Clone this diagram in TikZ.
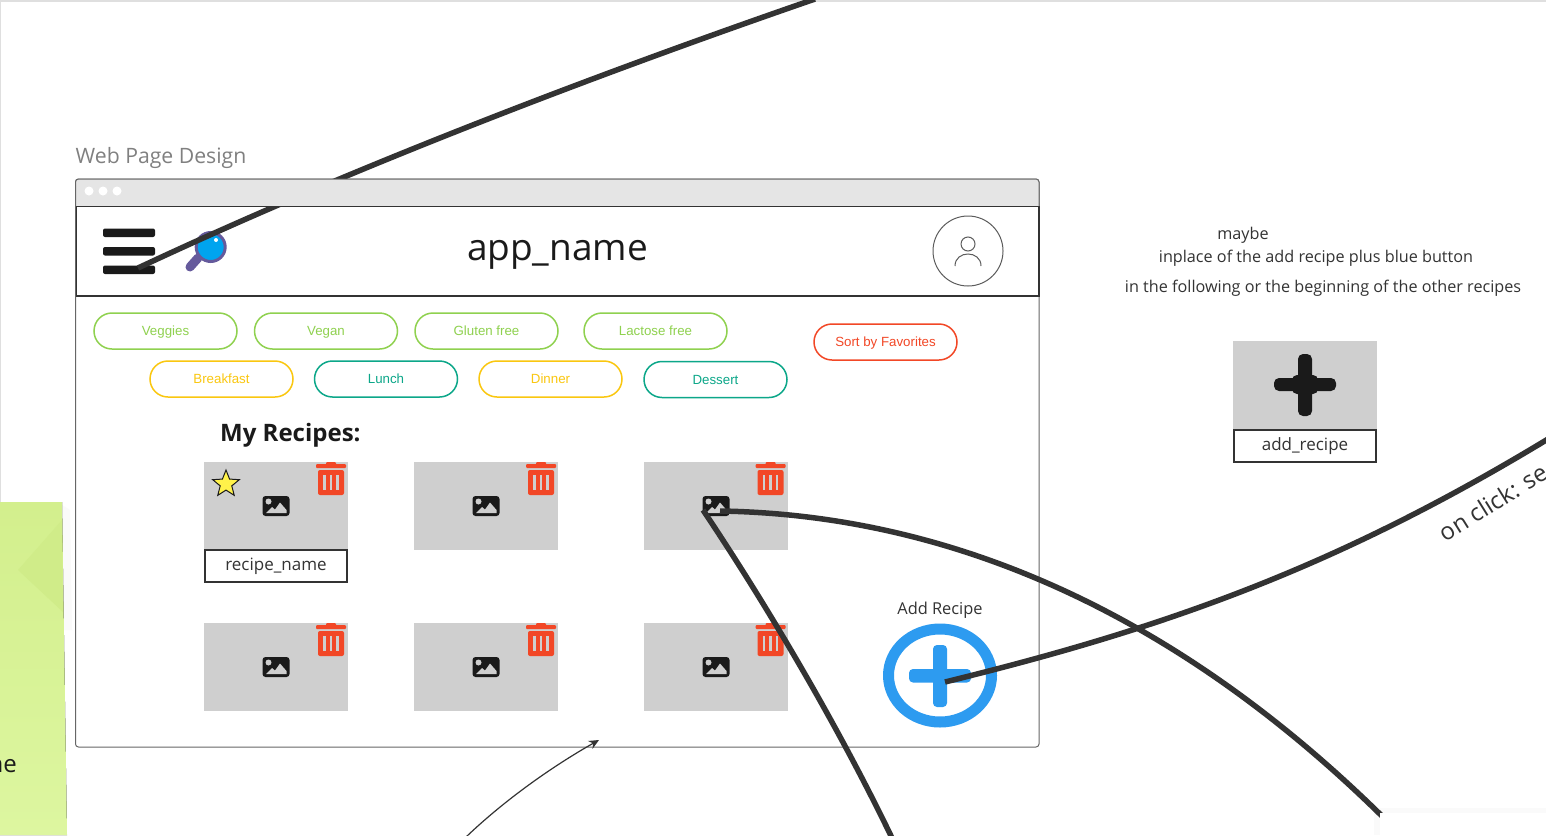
\documentclass[tikz,border=0pt]{standalone}
\usepackage{fontspec}
\setmainfont{Open Sans}
\newfontfamily\pillfont{Liberation Sans}
\usetikzlibrary{shapes.geometric, arrows, arrows.meta}
\definecolor{wirecol}{HTML}{333333}
\definecolor{cardgray}{HTML}{CFCFCF}
\definecolor{inkcol}{HTML}{1A1A1A}
\definecolor{pillgreen}{HTML}{8FD14F}
\definecolor{pillyellow}{HTML}{FAC710}
\definecolor{pillteal}{HTML}{0CA789}
\definecolor{pillred}{HTML}{F24726}
\definecolor{addblue}{HTML}{2D9BF0}
\definecolor{lenscol}{HTML}{00A4EF}
\definecolor{handlecol}{HTML}{655A9C}
\definecolor{barcol}{HTML}{E5E5E5}
\definecolor{stickytop}{HTML}{D3EF8D}
\definecolor{stickybottom}{HTML}{DDF6A0}
\definecolor{stickyfold}{HTML}{D0EC89}
\definecolor{starcol}{HTML}{FFF24A}
\tikzstyle{wire} = [wirecol,line width=5.5pt]
\tikzstyle{arrow} = [-{Stealth[length=10pt,width=9pt]},wirecol,line width=1.2pt]
\tikzstyle{pill} = [draw,line width=1.5pt,rounded corners=18pt,minimum width=143pt,minimum height=36pt,inner sep=0pt,text height=9.5pt,text depth=0pt,font=\pillfont\fontsize{13.3}{16}\selectfont]
\tikzstyle{card} = [fill=cardgray,minimum width=143.5pt,minimum height=88pt,inner sep=0pt]
\tikzstyle{namebox} = [draw=wirecol,fill=white,line width=1.5pt,minimum width=142pt,minimum height=32pt,inner sep=0pt,text=wirecol,font=\fontsize{17}{20}\selectfont]
\tikzstyle{note} = [inner sep=0pt,text=wirecol,font=\fontsize{16.2}{19}\selectfont]
\tikzset{
  trash/.pic={
    \fill[pillred,rounded corners=1pt](-15,-16)rectangle(15,-12);
    \fill[pillred,rounded corners=1pt](-5,-18)rectangle(5,-15);
    \fill[pillred,rounded corners=2pt](-13,-10)rectangle(13,15);
    \draw[cardgray,line width=2.4pt](-6.5,-5)--(-6.5,10)(0,-5)--(0,10)(6.5,-5)--(6.5,10);
  },
  photo/.pic={
    \fill[inkcol,rounded corners=3pt](-13.5,-10)rectangle(13.5,10);
    \fill[cardgray](-7.5,-4.5)circle(3);
    \fill[cardgray](-10,7)--(-4,1)--(-1,3.5)--(4,-3.5)--(10.5,4)--(10.5,7)--cycle;
  }
}
\begin{document}
\begin{tikzpicture}[x=1pt,y=-1pt]
  \useasboundingbox(0,0)rectangle(1546,835);
  \clip(0,0)rectangle(1546,835);
  \fill[white](0,0)rectangle(1546,835);
  \fill[gray!25](0,0)rectangle(1546,2);
  \fill[gray!25](0,0)rectangle(1,835);

  % sticky note at the left edge
  \fill[black!2](62,505)--(70,510)--(72,630)--(64,630)--cycle;
  \fill[top color=stickytop,bottom color=stickybottom](0,502)--(62,502)--(67,835)--(0,835)--cycle;
  \fill[stickyfold](62,520)--(63,612)--(18,570)--cycle;
  \node[anchor=east,inner sep=0pt,text=inkcol,font=\fontsize{24}{28}\selectfont](stickytext) at (17,766){ne};

  % window
  \node[anchor=south west,inner sep=0pt,text=gray,font=\fontsize{21.2}{25}\selectfont](pagetitle) at (75.5,169){Web Page Design};
  \draw[gray!80!black,fill=white,rounded corners=3pt,line width=1pt](75.5,179)rectangle(1039,747);
  \draw[wirecol,fill=white,line width=1.5pt](76.5,206.5)rectangle(1039,296);

  % icons in the header
  \fill[inkcol,rounded corners=2pt](103,228.5)rectangle(155,237);
  \fill[inkcol,rounded corners=2pt](103,247)rectangle(155,255.5);
  \fill[inkcol,rounded corners=2pt](103,265.5)rectangle(155,274);
  \draw[handlecol,line width=9pt,line cap=round](190,267)--(198,258);
  \draw[handlecol,fill=lenscol,line width=3pt](210.7,247)circle(14.5);
  \fill[white](216,240)circle(2);
  \node[inner sep=0pt,text=inkcol,font=\fontsize{37}{42}\selectfont](appname) at (557.5,255){app\_name};
  \draw[wirecol!80!white,line width=1pt](968,251)circle(35);
  \draw[wirecol!80!white,line width=1pt](968,244)circle(7);
  \draw[wirecol!80!white,line width=1pt](955,266)..controls (955,250) and (981,250)..(981,266);

  \node[pill,draw=pillgreen,text=pillgreen](veggies) at (165.5,331){Veggies};
  \node[pill,draw=pillgreen,text=pillgreen](vegan) at (326,331){Vegan};
  \node[pill,draw=pillgreen,text=pillgreen](gluten) at (486.5,331){Gluten free};
  \node[pill,draw=pillgreen,text=pillgreen](lactose) at (655.5,331){Lactose free};
  \node[pill,draw=pillred,text=pillred](favorites) at (885.5,342){Sort by Favorites};
  \node[pill,draw=pillyellow,text=pillyellow](breakfast) at (221.5,379){Breakfast};
  \node[pill,draw=pillteal,text=pillteal](lunch) at (386,379){Lunch};
  \node[pill,draw=pillyellow,text=pillyellow](dinner) at (550.5,379){Dinner};
  \node[pill,draw=pillteal,text=pillteal](dessert) at (715.5,379.5){Dessert};

  \node[anchor=west,inner sep=0pt,text=inkcol,font=\bfseries\fontsize{24}{28}\selectfont](myrecipes) at (220,435){My Recipes:};

  \node[card](cardA) at (276,505.5){};
  \node[card](cardB) at (486,505.5){};
  \node[card](cardC) at (716,505.5){};
  \node[card](cardD) at (276,667){};
  \node[card](cardE) at (486,667){};
  \node[card](cardF) at (716,667){};
  \pic at (276,506){photo};
  \pic at (486,506){photo};
  \pic at (716,506){photo};
  \pic at (276,667){photo};
  \pic at (486,667){photo};
  \pic at (716,667){photo};
  \pic at (331,480){trash};
  \pic at (541,480){trash};
  \pic at (770.5,480){trash};
  \pic at (331,641){trash};
  \pic at (541,641){trash};
  \pic at (770.5,641){trash};
  \node[star,star points=5,star point ratio=2.3,draw=inkcol,fill=starcol,line width=1pt,minimum size=28pt,inner sep=0pt](favstar) at (226,484){};
  \node[namebox](recipename) at (276,566){recipe\_name};

  % add button
  \node[note,font=\fontsize{16.4}{19}\selectfont](addlabel) at (940,610){Add Recipe};
  \node[ellipse,draw=addblue,line width=11pt,minimum width=103pt,minimum height=93pt,inner sep=0pt](addbutton) at (940,675.5){};
  \fill[addblue,rounded corners=4pt](933,645)rectangle(947,707);
  \fill[addblue,rounded corners=4pt](909,669)rectangle(971,682.5);

  % the design on the right
  \node[note](maybe) at (1243,235){maybe};
  \node[note](inplace) at (1316,258){inplace of the add recipe plus blue button};
  \node[note](following) at (1323,288){in the following or the beginning of the other recipes};
  \node[card](addcard) at (1305,385){};
  \fill[inkcol,rounded corners=5pt](1298,354)rectangle(1312,416);
  \fill[inkcol,rounded corners=5pt](1274,378)rectangle(1336,391);
  \fill[inkcol,rounded corners=5pt](1292,375)rectangle(1318,394);
  \node[namebox](addname) at (1305,446){add\_recipe};

  % connectors
  \coordinate (menuend) at (138,268);
  \coordinate (topend) at (815,-1);
  \coordinate (plusend) at (945,682);
  \coordinate (rightend) at (1548,439);
  \coordinate (photoend) at (720,511);
  \coordinate (panelend) at (1388,822);
  \coordinate (photostart) at (703,510);
  \coordinate (bottomend) at (892,838);
  \coordinate (arrowstart) at (466,837);
  \coordinate (arrowend) at (599,740);
  \fill[black!2](1374,808)rectangle(1546,835);
  \draw[wire](menuend)..controls (350,168.5) and (595,75)..(topend);
  \fill[barcol,rounded corners=3pt](75.5,179)rectangle(1039,190);
  \fill[barcol](75.5,185)rectangle(1039,206);
  \draw[gray!80!black,rounded corners=3pt,line width=1pt](75.5,206)--(75.5,179)--(1039,179)--(1039,206);
  \draw[wirecol,line width=1.5pt](76.5,206.5)--(1039,206.5);
  \fill[white](89,191)circle(4.5)(103,191)circle(4.5)(117,191)circle(4.5);

  \draw[wire](plusend)..controls (1165,628) and (1335,568)..(rightend);
  \draw[wire](photoend)..controls (965,515) and (1190,625)..(panelend);
  \draw[wire](photostart)..controls (770,610) and (840,730)..(bottomend);
  \draw[arrow](arrowstart)..controls (510,795) and (560,762)..(arrowend);
  \node[inner sep=0pt,anchor=south west,rotate=32,text=wirecol,font=\fontsize{24}{28}\selectfont](onclick) at (1446,543){on click: se};

  \fill[white](1380,813)rectangle(1546,835);
\end{tikzpicture}
\end{document}
